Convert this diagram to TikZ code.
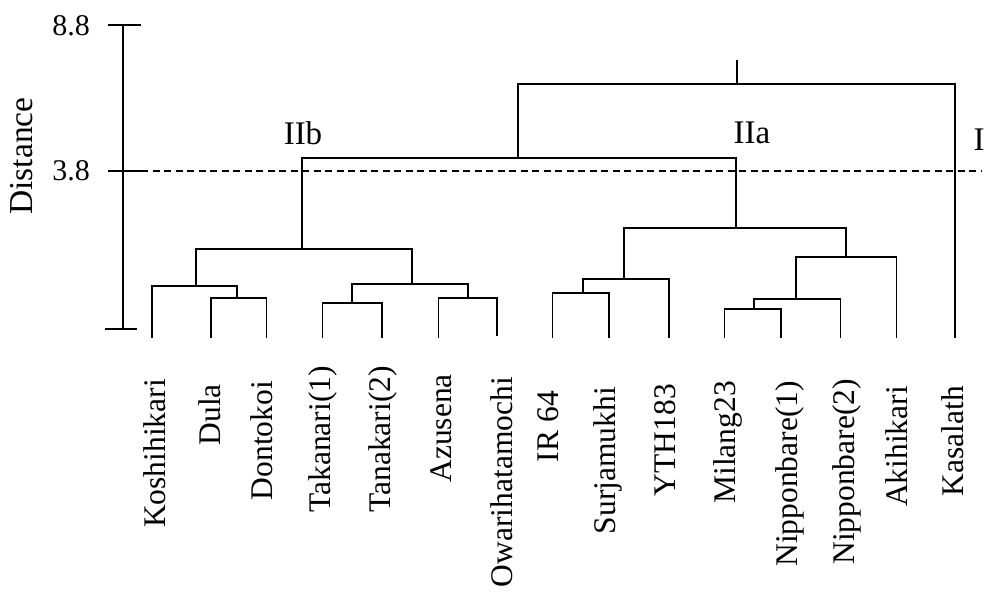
\documentclass[tikz,border=0pt]{standalone}
\usepackage{fontspec}
\setmainfont{Liberation Serif}
\begin{document}
\begin{tikzpicture}[x=1pt,y=-1pt,
  tree/.style={line width=1.8pt},
  axisline/.style={line width=1.8pt},
  cutline/.style={line width=1.5pt,dash pattern=on 7pt off 4.5pt},
  leaflabel/.style={rotate=90,anchor=east,inner sep=0pt,font=\fontsize{31.5}{31.5}\selectfont},
  grouplabel/.style={inner sep=0pt,font=\fontsize{33}{33}\selectfont},
  ticklabel/.style={inner sep=0pt,font=\fontsize{30}{30}\selectfont}]
\useasboundingbox (0,0) rectangle (988,592);
% axis
\coordinate (atop) at (122.7,25);
\coordinate (amid) at (122.7,171);
\coordinate (abot) at (122.7,329);
\coordinate (tkTL) at (108,25);   \coordinate (tkTR) at (141,25);
\coordinate (tkML) at (108,171);  \coordinate (tkMR) at (141,171);
\coordinate (tkBL) at (105,329);  \coordinate (tkBR) at (137,329);
\draw[axisline] (atop) -- (abot);
\draw[axisline] (tkTL) -- (tkTR);
\draw[axisline] (tkML) -- (tkMR);
\draw[axisline] (tkBL) -- (tkBR);
\node[ticklabel] (l88) at (71,26) {8.8};
\node[ticklabel] (l38) at (71,171) {3.8};
\node[rotate=90,inner sep=0pt,font=\fontsize{33.5}{33.5}\selectfont] (dist) at (22,156) {Distance};
% cut line
\coordinate (cutA) at (141,171);
\coordinate (cutB) at (982,171);
\draw[cutline] (cutA) -- (cutB);
% leaves
\coordinate (l1) at (152,337.5);
\coordinate (l2) at (211,337.5);
\coordinate (l3) at (266.5,337.5);
\coordinate (l4) at (322.5,337.5);
\coordinate (l5) at (382,337.5);
\coordinate (l6) at (438.5,337.5);
\coordinate (l7) at (497,336);
\coordinate (l8) at (552.5,337.5);
\coordinate (l9) at (609,337.5);
\coordinate (l10) at (669,337.5);
\coordinate (l11) at (724.5,337.5);
\coordinate (l12) at (781,337.5);
\coordinate (l13) at (840.5,337.5);
\coordinate (l14) at (896.5,337.5);
\coordinate (l15) at (955,337.5);
% clusters
\coordinate (c23) at (237,298.3);
\coordinate (c123) at (196,286);
\coordinate (c45) at (352.3,302.7);
\coordinate (c67) at (468.3,298.3);
\coordinate (c4567) at (411.7,284);
\coordinate (cIIb) at (301.7,248.7);
\coordinate (c89) at (582.7,292.7);
\coordinate (c8910) at (624.3,279.3);
\coordinate (c1112) at (754.3,308.7);
\coordinate (c111213) at (796,299.3);
\coordinate (c1114) at (846,256.7);
\coordinate (cIIa) at (735.7,227.7);
\coordinate (cII) at (517.7,158.3);
\coordinate (croot) at (737.3,84.3);
\coordinate (rtop) at (737.3,60);
% merges
\draw[tree] (l2) |- (c23) -| (l3);
\draw[tree] (l1) |- (c123) -| (c23);
\draw[tree] (l4) |- (c45) -| (l5);
\draw[tree] (l6) |- (c67) -| (l7);
\draw[tree] (c45) |- (c4567) -| (c67);
\draw[tree] (c123) |- (cIIb) -| (c4567);
\draw[tree] (l8) |- (c89) -| (l9);
\draw[tree] (c89) |- (c8910) -| (l10);
\draw[tree] (l11) |- (c1112) -| (l12);
\draw[tree] (c1112) |- (c111213) -| (l13);
\draw[tree] (c111213) |- (c1114) -| (l14);
\draw[tree] (c8910) |- (cIIa) -| (c1114);
\draw[tree] (cIIb) |- (cII) -| (cIIa);
\draw[tree] (cII) |- (croot) -| (l15);
\draw[tree] (croot) -- (rtop);
% group labels
\node[grouplabel] (gIIb) at (303,133) {IIb};
\node[grouplabel] (gIIa) at (752,133) {IIa};
\node[grouplabel] (gI) at (979,140) {I};
% leaf labels
\node[leaflabel] (t1) at (155,379) {Koshihikari};
\node[leaflabel] (t2) at (210,384) {Dula};
\node[leaflabel] (t3) at (261.7,381) {Dontokoi};
\node[leaflabel] (t4) at (322.7,366) {Takanari(1)};
\node[leaflabel] (t5) at (383,366) {Tanakari(2)};
\node[leaflabel] (t6) at (441.7,374) {Azusena};
\node[leaflabel] (t7) at (501.7,377) {Owarihatamochi};
\node[leaflabel] (t8) at (548,391) {IR 64};
\node[leaflabel] (t9) at (608,387) {Surjamukhi};
\node[leaflabel] (t10) at (665,384) {YTH183};
\node[leaflabel] (t11) at (728,381) {Milang23};
\node[leaflabel] (t12) at (790,381) {Nipponbare(1)};
\node[leaflabel] (t13) at (846.7,379) {Nipponbare(2)};
\node[leaflabel] (t14) at (896.7,386) {Akihikari};
\node[leaflabel] (t15) at (953,386) {Kasalath};
\end{tikzpicture}
\end{document}
